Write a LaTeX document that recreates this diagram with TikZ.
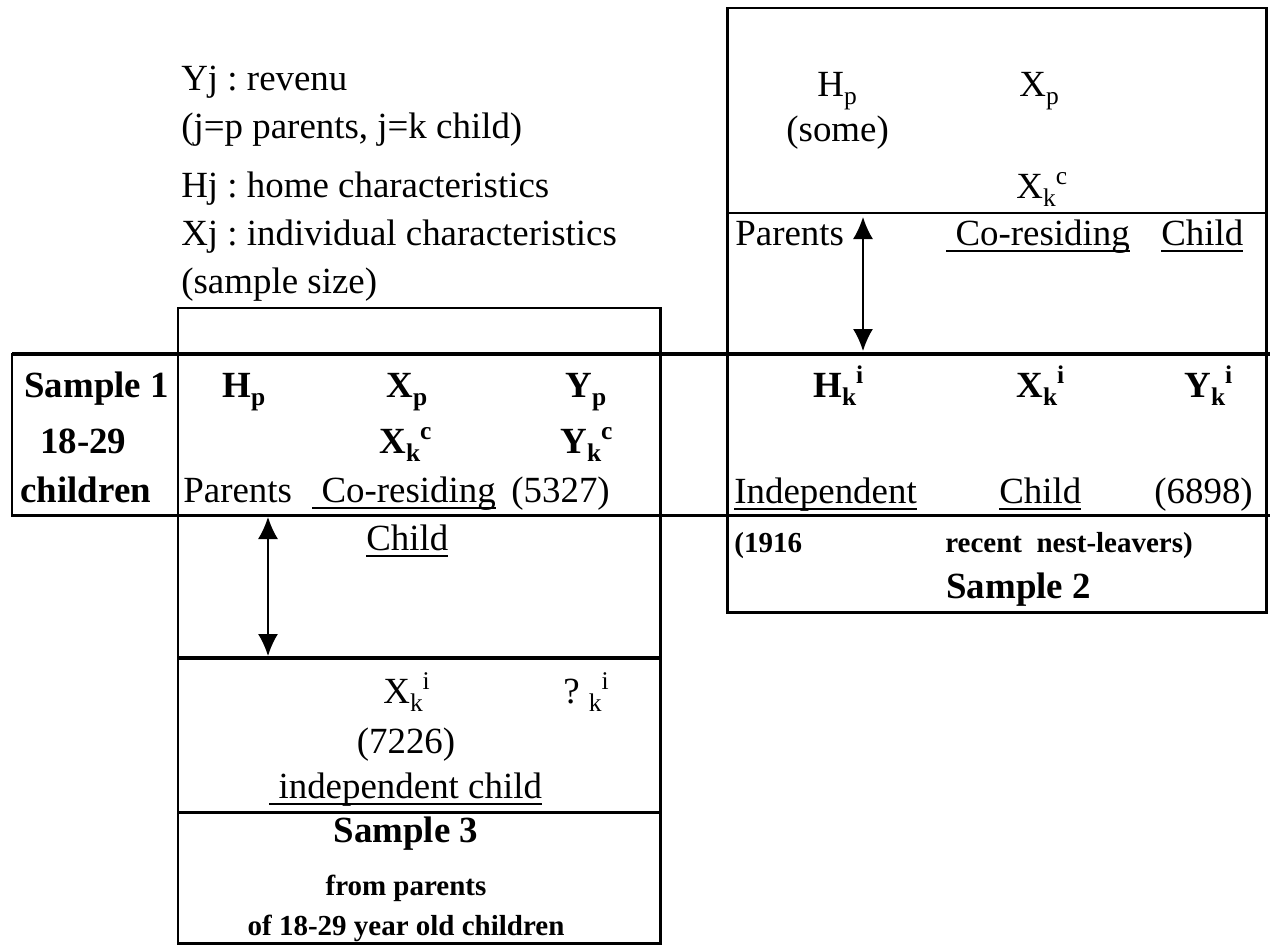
\documentclass[tikz,border=0pt]{standalone}
\usepackage{fontspec}
\setmainfont{Liberation Serif}
\usetikzlibrary{arrows.meta}
\newcommand{\ulin}[1]{\setbox0\hbox{#1}\rlap{\rule[-0.19em]{\wd0}{0.065em}}\box0}
\newcommand{\lo}[1]{\raisebox{-0.24em}{\fontsize{14.5}{16}\selectfont #1}}
\newcommand{\hi}[1]{\raisebox{0.36em}{\fontsize{14.5}{16}\selectfont #1}}

\begin{document}
\frenchspacing
\begin{tikzpicture}[x=0.2mm, y=-0.2mm,
  font=\fontsize{21}{25}\selectfont,
  txt/.style={inner sep=0, anchor=base west},
  ctr/.style={inner sep=0, anchor=base},
  bf/.style={font=\fontsize{21}{25}\selectfont\bfseries},
  sm/.style={font=\fontsize{16.5}{20}\selectfont\bfseries},
  box/.style={line width=1.7pt},
  heavy/.style={line width=2.6pt},
  dbl/.style={line width=0.9pt, {Latex[length=4.4mm,width=4mm]}-{Latex[length=4.4mm,width=4mm]}}]
  \useasboundingbox (0,0) rectangle (1270,945);

  % legend
  \node[txt](yj) at (181,90)  {Yj : revenu};
  \node[txt](jk) at (181,138) {(j=p parents, j=k child)};
  \node[txt](hj) at (181,197) {Hj : home characteristics};
  \node[txt](xj) at (181,245) {Xj : individual characteristics};
  \node[txt](sz) at (181,293) {(sample size)};

  % frames
  \draw[box] (727,8) rectangle (1266,612);
  \draw[line width=1.2pt] (727,213) -- (1266,213);
  \draw[box] (178,308) rectangle (660,943);
  \draw[heavy] (178,658) -- (660,658);
  \draw[box] (178,812) -- (660,812);
  \draw[box] (12,354) rectangle (178,515);
  \draw[heavy] (12,354) -- (1270,354);
  \draw[box] (12,515) -- (1270,515);

  % sample 2, upper part
  \node[txt](hp2)   at (817,96)   {H\lo{p}};
  \node[txt](some)  at (786,141)  {(some)};
  \node[txt](xp2)   at (1019,96)  {X\lo{p}};
  \node[txt](xkc2)  at (1016,198) {X\lo{k}\hi{c}};
  \node[txt](par2)  at (735,245)  {Parents};
  \node[txt](cor2)  at (946,245)  {\ulin{\ Co-residing}};
  \node[txt](chd2)  at (1161,245) {\ulin{Child}};

  % sample 1 row
  \node[txt,bf](s1)    at (24,397)  {Sample 1};
  \node[txt,bf](age1)  at (40,453)  {18-29};
  \node[txt,bf](chn1)  at (20,502)  {children};
  \node[txt,bf](hp1)   at (222,397) {H\lo{p}};
  \node[txt,bf](xp1)   at (386,397) {X\lo{p}};
  \node[txt,bf](yp1)   at (565,397) {Y\lo{p}};
  \node[txt,bf](xkc1)  at (379,453) {X\lo{k}\hi{c}};
  \node[txt,bf](ykc1)  at (560,453) {Y\lo{k}\hi{c}};
  \node[txt](par1)     at (183,502) {Parents};
  \node[txt](cor1)     at (312,502) {\ulin{\ Co-residing}};
  \node[txt](n1)       at (511,502) {(5327)};
  \node[txt](chd1)     at (366,550) {\ulin{Child}};

  \node[txt,bf](hki)   at (813,397)  {H\lo{k}\hi{i}};
  \node[txt,bf](xki)   at (1016,397) {X\lo{k}\hi{i}};
  \node[txt,bf](yki)   at (1184,397) {Y\lo{k}\hi{i}};
  \node[txt](ind2)     at (734,503)  {\ulin{Independent}};
  \node[txt](chd3)     at (999,503)  {\ulin{Child}};
  \node[txt](n2)       at (1154,503) {(6898)};

  % sample 2, lower part
  \node[txt,sm](nl1)   at (734,552) {(1916};
  \node[txt,sm](nl2)   at (945,552) {recent~ nest-leavers)};
  \node[txt,bf](s2)    at (946,598) {Sample 2};

  % sample 3
  \node[txt](xki3)     at (383,703) {X\lo{k}\hi{i}};
  \node[txt](qki3)     at (563,703) {?~\lo{k}\hi{i}};
  \node[ctr](n3)       at (406,753) {(7226)};
  \node[txt](ind3)     at (269,798) {\ulin{\ independent child}};
  \node[ctr,bf](s3)    at (406,842) {Sample 3};
  \node[ctr,sm](frm)   at (406,895) {from parents};
  \node[ctr,sm](old)   at (406,935) {of 18-29 year old children};

  % arrows
  \coordinate (a2top) at (863,217);
  \coordinate (a2bot) at (863,351);
  \coordinate (a1top) at (268,517);
  \coordinate (a1bot) at (268,656);
  \draw[dbl] (a2top) -- (a2bot);
  \draw[dbl] (a1top) -- (a1bot);
\end{tikzpicture}
\end{document}
